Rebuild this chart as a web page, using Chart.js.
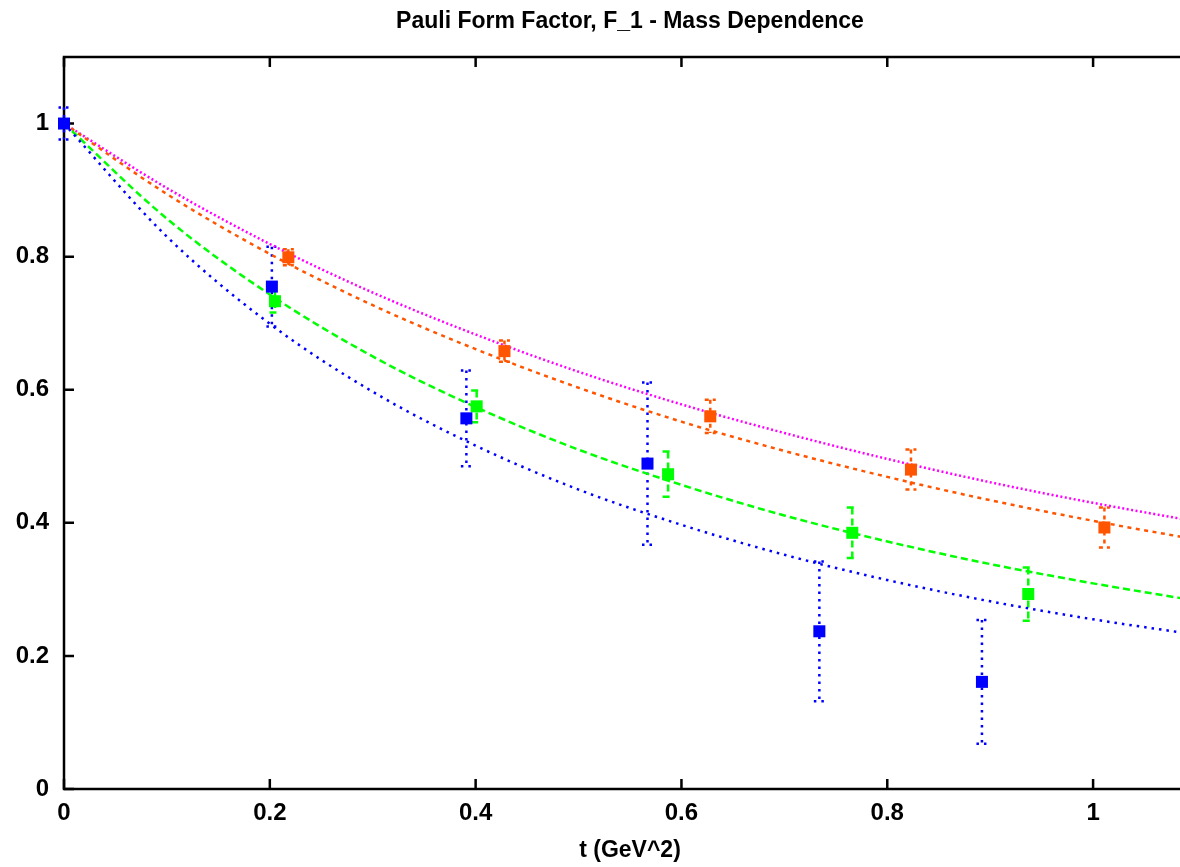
<!DOCTYPE html>
<html>
<head>
<meta charset="utf-8">
<script src="https://cdn.jsdelivr.net/npm/chart.js@4.4.1/dist/chart.umd.min.js"></script>
<style>
  html, body { margin: 0; padding: 0; background: #fff; overflow: hidden; }
  #wrap { width: 1260px; height: 867px; }
</style>
</head>
<body>
<div id="wrap"><canvas id="grafico" width="1260" height="867"></canvas></div>
<script>
// ticks
const xTicks = [0, 0.2, 0.4, 0.6, 0.8, 1];
const yTicks = [0, 0.2, 0.4, 0.6, 0.8, 1];

// puntos con errores
const blueT = [0, 0.202, 0.391, 0.567, 0.734, 0.892];
const blueF = [1.0, 0.755, 0.557, 0.489, 0.237, 0.161];
const blueErr = [0.024, 0.060, 0.072, 0.122, 0.105, 0.093];

const greenT = [0.205, 0.401, 0.587, 0.766, 0.937];
const greenF = [0.733, 0.575, 0.473, 0.385, 0.293];
const greenErr = [0.017, 0.024, 0.034, 0.038, 0.040];

const orangeT = [0.218, 0.428, 0.628, 0.823, 1.011];
const orangeF = [0.799, 0.658, 0.560, 0.480, 0.393];
const orangeErr = [0.012, 0.016, 0.025, 0.030, 0.030];

// curvas de ajuste
const curveT = [0, 0.1, 0.2, 0.3, 0.4, 0.5, 0.6, 0.7, 0.8, 0.9, 1.0, 1.1];
const magentaCurve = [1, 0.903, 0.819, 0.746, 0.683, 0.627, 0.578, 0.535, 0.496, 0.461, 0.430, 0.402];
const orangeCurve = [1, 0.894, 0.804, 0.727, 0.661, 0.603, 0.552, 0.508, 0.469, 0.434, 0.403, 0.375];
const greenCurve = [1, 0.857, 0.743, 0.650, 0.574, 0.510, 0.457, 0.411, 0.372, 0.338, 0.309, 0.283];
const blueCurve = [1, 0.830, 0.699, 0.597, 0.516, 0.450, 0.397, 0.352, 0.314, 0.282, 0.255, 0.232];

const BLUE = '#0000ff', GREEN = '#00ff00', ORANGE = '#ff5500', MAGENTA = '#ff00ff';
const FONT = '"Liberation Sans", Arial, Helvetica, sans-serif';

function pares(xs, ys){
    return xs.map((v, i) => ({ x: v, y: ys[i] }));
}

const series = [
    { t: blueT, f: blueF, err: blueErr, color: BLUE, dash: [2.5, 5] },
    { t: greenT, f: greenF, err: greenErr, color: GREEN, dash: [7, 4] },
    { t: orangeT, f: orangeF, err: orangeErr, color: ORANGE, dash: [4, 4] }
];

// barras de error
const barrasError = {
    id: 'barrasError',
    beforeDatasetsDraw(chart){
        const { ctx, scales: { x, y } } = chart;
        series.forEach(s => {
            ctx.save();
            ctx.strokeStyle = s.color;
            ctx.lineWidth = 2.5;
            ctx.setLineDash(s.dash);
            s.t.forEach((t, i) => {
                const px = x.getPixelForValue(t);
                const hi = y.getPixelForValue(s.f[i] + s.err[i]);
                const lo = y.getPixelForValue(s.f[i] - s.err[i]);
                ctx.beginPath();
                ctx.moveTo(px, hi); ctx.lineTo(px, lo);
                ctx.moveTo(px - 5.5, hi); ctx.lineTo(px + 5.5, hi);
                ctx.moveTo(px - 5.5, lo); ctx.lineTo(px + 5.5, lo);
                ctx.stroke();
            });
            ctx.restore();
        });
    }
};

// marco con ticks hacia dentro
const marco = {
    id: 'marco',
    beforeDatasetsDraw(chart){
        const { ctx, chartArea: a, scales: { x, y } } = chart;
        ctx.save();
        ctx.strokeStyle = '#000';
        ctx.lineWidth = 2.5;
        ctx.strokeRect(a.left, a.top, a.right - a.left, a.bottom - a.top);
        ctx.beginPath();
        xTicks.forEach(v => {
            const px = x.getPixelForValue(v);
            ctx.moveTo(px, a.bottom); ctx.lineTo(px, a.bottom - 10);
            ctx.moveTo(px, a.top); ctx.lineTo(px, a.top + 10);
        });
        yTicks.forEach(v => {
            const py = y.getPixelForValue(v);
            ctx.moveTo(a.left, py); ctx.lineTo(a.left + 10, py);
            ctx.moveTo(a.right, py); ctx.lineTo(a.right - 10, py);
        });
        ctx.stroke();
        ctx.restore();
    }
};

function curva(data, color, dash){
    return {
        data: pares(curveT, data),
        borderColor: color,
        borderWidth: 2.5,
        borderDash: dash,
        pointRadius: 0,
        fill: false,
        cubicInterpolationMode: 'monotone'
    };
}

function puntos(xs, ys, color){
    return {
        data: pares(xs, ys),
        showLine: false,
        pointStyle: 'rect',
        pointRadius: 8.5,
        pointBackgroundColor: color,
        pointBorderColor: color,
        pointBorderWidth: 0,
        clip: false
    };
}

const ctx = document.getElementById('grafico').getContext('2d');
new Chart(ctx, {
    type: 'line',
    data: {
        datasets: [
            puntos(blueT, blueF, BLUE),
            puntos(greenT, greenF, GREEN),
            puntos(orangeT, orangeF, ORANGE),
            curva(blueCurve, BLUE, [2.5, 5]),
            curva(greenCurve, GREEN, [7, 4]),
            curva(orangeCurve, ORANGE, [4, 4.5]),
            curva(magentaCurve, MAGENTA, [2, 2.5])
        ]
    },
    options: {
        responsive: false,
        animation: false,
        devicePixelRatio: 1,
        layout: { padding: 0 },
        plugins: {
            legend: { display: false },
            tooltip: { enabled: false },
            title: {
                display: true,
                text: 'Pauli Form Factor, F_1 - Mass Dependence',
                color: '#000',
                font: { family: FONT, size: 23, weight: 'bold', lineHeight: 1.2 },
                padding: { top: 8, bottom: 21.4 }
            }
        },
        scales: {
            x: {
                type: 'linear',
                min: 0,
                max: 1.1,
                afterBuildTicks: s => { s.ticks = xTicks.map(v => ({ value: v })); },
                afterFit: s => { s.height = 78; },
                grid: { drawOnChartArea: false, drawTicks: false },
                border: { display: false },
                ticks: {
                    color: '#000',
                    padding: 10,
                    maxRotation: 0,
                    font: { family: FONT, size: 24, weight: 'bold' },
                    callback: v => String(v)
                },
                title: {
                    display: true,
                    text: 't (GeV^2)',
                    color: '#000',
                    font: { family: FONT, size: 23, weight: 'bold', lineHeight: 1.2 },
                    padding: { top: 0, bottom: 3 }
                }
            },
            y: {
                type: 'linear',
                position: 'left',
                min: 0,
                max: 1.1,
                afterBuildTicks: s => { s.ticks = yTicks.map(v => ({ value: v })); },
                afterFit: s => { s.width = 64; },
                grid: { drawOnChartArea: false, drawTicks: false },
                border: { display: false },
                ticks: {
                    color: '#000',
                    padding: 15,
                    font: { family: FONT, size: 24, weight: 'bold' },
                    callback: v => String(v)
                }
            },
            // eje derecho vacio, solo para centrar el titulo como en la figura
            y2: {
                type: 'linear',
                position: 'right',
                min: 0,
                max: 1.1,
                afterFit: s => { s.width = 64; },
                grid: { display: false },
                border: { display: false },
                ticks: { display: false }
            }
        }
    },
    plugins: [marco, barrasError]
});
</script>
</body>
</html>
